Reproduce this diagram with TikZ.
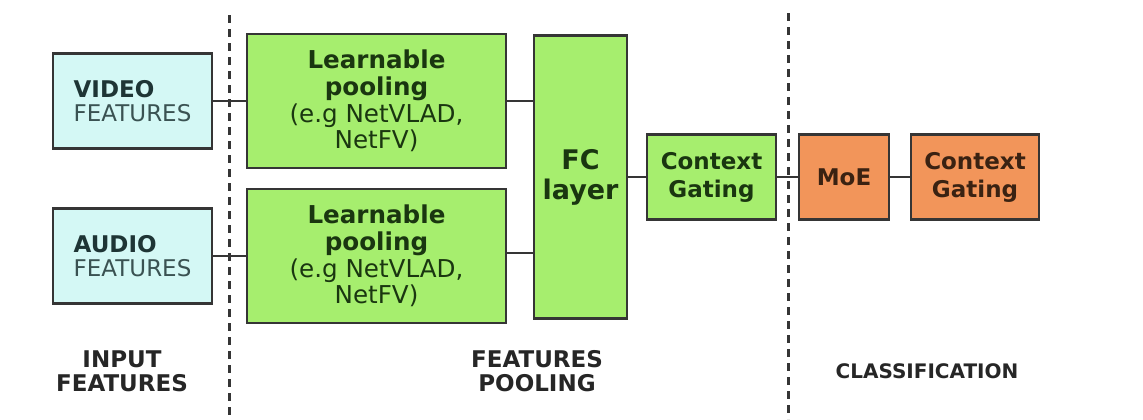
\documentclass[tikz,border=0pt]{standalone}
\usepackage{fontspec}
\setmainfont{DejaVu Sans}
\definecolor{cyanfill}{HTML}{D4F8F5}
\definecolor{greenfill}{HTML}{A6EE6E}
\definecolor{orangefill}{HTML}{F2955A}
\definecolor{edge}{HTML}{353535}
\definecolor{cyantext}{HTML}{1E3535}
\definecolor{cyantextlight}{HTML}{3A5252}
\definecolor{greentext}{HTML}{1A3610}
\definecolor{orangetext}{HTML}{3A2212}
\definecolor{labeltext}{HTML}{262626}
\tikzset{
  box/.style={draw=edge, line width=1.3pt, inner sep=0pt, outer sep=0pt},
  cyanbox/.style={box, fill=cyanfill, text=cyantext, align=left},
  greenbox/.style={box, fill=greenfill, text=greentext, align=center},
  orangebox/.style={box, fill=orangefill, text=orangetext, align=center},
  link/.style={draw=edge, line width=1pt},
  divider/.style={draw=edge, line width=1.5pt, dash pattern=on 4pt off 3pt},
  seclabel/.style={text=labeltext, align=center, font=\bfseries\fontsize{11.5}{12}\selectfont}
}
\begin{document}
\begin{tikzpicture}[x=0.5pt, y=-0.5pt]
\useasboundingbox (0,0) rectangle (1143,419);
% dividers
\coordinate (d1top) at (229,15);
\coordinate (d1bot) at (229,419);
\coordinate (d2top) at (788,13);
\coordinate (d2bot) at (788,419);
\draw[divider] (d1top) -- (d1bot);
\draw[divider] (d2top) -- (d2bot);
% input boxes
\node[cyanbox, minimum width=79.5pt, minimum height=47.5pt,
      font=\fontsize{11.5}{12}\selectfont] (video) at (132.5,101)
  {\textbf{VIDEO}\\\textcolor{cyantextlight}{FEATURES}};
\node[cyanbox, minimum width=79.5pt, minimum height=47.5pt,
      font=\fontsize{11.5}{12}\selectfont] (audio) at (132.5,256)
  {\textbf{AUDIO}\\\textcolor{cyantextlight}{FEATURES}};
% pooling boxes
\node[greenbox, minimum width=129.5pt, minimum height=67pt,
      font=\fontsize{12.3}{13.3}\selectfont] (pool1) at (376.5,101)
  {\textbf{Learnable}\\\textbf{pooling}\\(e.g NetVLAD,\\NetFV)};
\node[greenbox, minimum width=129.5pt, minimum height=67pt,
      font=\fontsize{12.3}{13.3}\selectfont] (pool2) at (376.5,256)
  {\textbf{Learnable}\\\textbf{pooling}\\(e.g NetVLAD,\\NetFV)};
% FC layer
\node[greenbox, minimum width=46.5pt, minimum height=141.5pt,
      font=\bfseries\fontsize{13.5}{15}\selectfont] (fc) at (580.5,177)
  {FC\\layer};
% context gating 1
\node[greenbox, minimum width=64.5pt, minimum height=42.5pt,
      font=\bfseries\fontsize{11.5}{14}\selectfont] (cg1) at (711.5,177)
  {Context\\Gating};
% MoE
\node[orangebox, minimum width=45pt, minimum height=42.5pt,
      font=\bfseries\fontsize{11.5}{14}\selectfont] (moe) at (844,177)
  {MoE};
% context gating 2
\node[orangebox, minimum width=64pt, minimum height=42.5pt,
      font=\bfseries\fontsize{11.5}{14}\selectfont] (cg2) at (975,177)
  {Context\\Gating};
% connectors
\draw[link] (video) -- (pool1);
\draw[link] (audio) -- (pool2);
\draw[link] (pool1.east) -- (pool1.east -| fc.west);
\draw[link] ([yshift=1.5pt]pool2.east) -- ([yshift=1.5pt]pool2.east -| fc.west);
\draw[link] (fc) -- (cg1);
\draw[link] (cg1) -- (moe);
\draw[link] (moe) -- (cg2);
% section labels
\node[seclabel] (lin) at (122,371) {INPUT\\FEATURES};
\node[seclabel] (lpool) at (537,371) {FEATURES\\POOLING};
\node[seclabel, font=\bfseries\fontsize{10}{12}\selectfont] (lcls) at (927,371) {CLASSIFICATION};
\end{tikzpicture}
\end{document}
